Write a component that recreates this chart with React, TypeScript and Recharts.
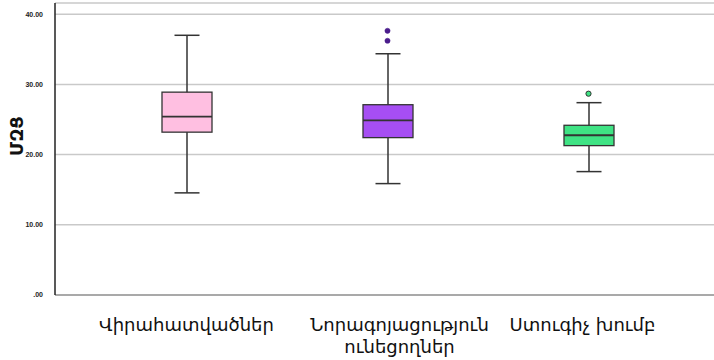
import React from "react"
import { ComposedChart, Bar, Line, XAxis, YAxis, CartesianGrid } from "recharts"

// Body mass index by group: five-number summary plus outliers
const groups = ["Վիրահատվածներ", "Նորագոյացություն ունեցողներ", "Ստուգիչ խումբ"]
const whiskerLow = [14.55, 15.87, 17.58]
const q1 = [23.2, 22.42, 21.28]
const median = [25.4, 24.89, 22.76]
const q3 = [28.9, 27.11, 24.18]
const whiskerHigh = [37.0, 34.37, 27.4]
const outlierA: (number | null)[] = [null, 36.22, 28.68]
const outlierB: (number | null)[] = [null, 37.64, null]
const yTicks = [0, 10, 20, 30, 40]

const boxFills = ["#ffbfe1", "#a64ef3", "#3fe384"]
const outlierFills = ["#333", "#4b1d8c", "#3fe384"]
const labelShift = [0, 12, -6]
const ink = "#333"

const data = groups.map((name, i) => ({
  name,
  range: [whiskerLow[i], whiskerHigh[i]],
  low: whiskerLow[i],
  q1: q1[i],
  median: median[i],
  q3: q3[i],
  high: whiskerHigh[i],
  outA: outlierA[i],
  outB: outlierB[i],
}))

function BoxShape(props: any) {
  const { x, y, width, height, payload, index } = props
  const { low, high } = payload
  const toY = (v: number) => y + ((high - v) / (high - low)) * height
  const cx = x + width / 2
  const cap = width / 4
  const top = toY(payload.q3)
  const bottom = toY(payload.q1)
  return (
    <g>
      <line x1={cx} x2={cx} y1={toY(high)} y2={toY(low)} stroke={ink} strokeWidth={1.5} />
      <line x1={cx - cap} x2={cx + cap} y1={toY(high)} y2={toY(high)} stroke={ink} strokeWidth={1.5} />
      <line x1={cx - cap} x2={cx + cap} y1={toY(low)} y2={toY(low)} stroke={ink} strokeWidth={1.5} />
      <rect x={x} y={top} width={width} height={bottom - top} fill={boxFills[index]} stroke={ink} strokeWidth={1.3} />
      <line x1={x} x2={x + width} y1={toY(payload.median)} y2={toY(payload.median)} stroke={ink} strokeWidth={1.8} />
    </g>
  )
}

function OutlierDot(props: any) {
  const { cx, cy, index, value } = props
  if (value == null || cy == null) return <g key={`o-${index}`} />
  return (
    <circle
      key={`o-${index}`}
      cx={cx}
      cy={cy}
      r={2.6}
      fill={outlierFills[index]}
      stroke={index === 2 ? ink : outlierFills[index]}
      strokeWidth={index === 2 ? 1 : 0.5}
    />
  )
}

function GroupTick(props: any) {
  const { x, y, payload, index } = props
  const words: string[] = payload.value.split(" ")
  const lines = words.length > 1 && payload.value.length > 16 ? words : [payload.value]
  const tx = x + labelShift[index]
  return (
    <text x={tx} y={y} textAnchor="middle" fontSize={18} fill="#111" fontFamily="'DejaVu Sans', sans-serif">
      {lines.map((l, i) => (
        <tspan key={i} x={tx} dy={i === 0 ? 28 : 22}>
          {l}
        </tspan>
      ))}
    </text>
  )
}

export default function App() {
  return (
    <div style={{ position: "absolute", left: 0, top: 0, width: 714, height: 360, background: "#fff" }}>
      <ComposedChart width={714} height={360} data={data} margin={{ top: 3, right: 0, bottom: 0, left: 0 }}>
        <CartesianGrid vertical={false} stroke="#c9c9c9" strokeWidth={1.5} />
        <XAxis
          dataKey="name"
          height={65}
          padding={{ left: 31, right: 25 }}
          tickLine={false}
          axisLine={{ stroke: "#9a9a9a", strokeWidth: 1.5 }}
          tick={<GroupTick />}
          interval={0}
        />
        <YAxis
          width={55}
          domain={[0, 41.6]}
          ticks={yTicks}
          tickLine={false}
          tickMargin={6}
          axisLine={{ stroke: "#222", strokeWidth: 1.5 }}
          tickFormatter={(v: number) => (v === 0 ? ".00" : v.toFixed(2))}
          tick={{ fontSize: 7, fontWeight: 700, fill: "#222", fontFamily: "Arial, 'Liberation Sans', sans-serif" }}
          label={{
            content: ({ viewBox }: any) => {
              const lx = viewBox.x + 16
              const ly = viewBox.y + viewBox.height / 2 - 13
              return (
                <text
                  x={lx}
                  y={ly}
                  transform={`rotate(-90 ${lx} ${ly})`}
                  textAnchor="middle"
                  dominantBaseline="central"
                  fontSize={18}
                  fontWeight={700}
                  fill="#111"
                  fontFamily="'DejaVu Sans', sans-serif"
                >
                  ՄԶՑ
                </text>
              )
            },
          }}
        />
        <Bar dataKey="range" barSize={50} shape={<BoxShape />} isAnimationActive={false} />
        <Line dataKey="outA" stroke="none" dot={<OutlierDot />} activeDot={false} isAnimationActive={false} />
        <Line dataKey="outB" stroke="none" dot={<OutlierDot />} activeDot={false} isAnimationActive={false} />
      </ComposedChart>
    </div>
  )
}
